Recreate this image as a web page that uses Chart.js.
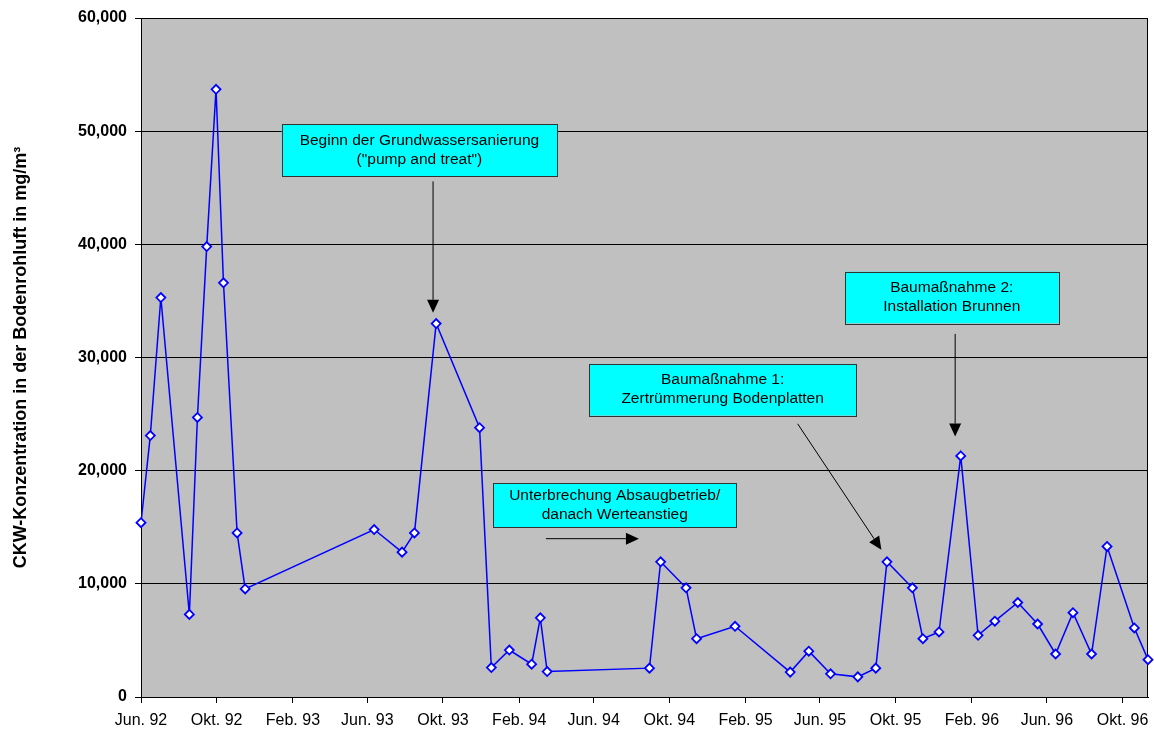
<!DOCTYPE html>
<html>
<head>
<meta charset="utf-8">
<title>CKW-Konzentration in der Bodenrohluft</title>
<script src="https://cdn.jsdelivr.net/npm/chart.js@4/dist/chart.umd.min.js"></script>
<style>
  html, body { margin: 0; padding: 0; background: #ffffff; }
  #wrap { width: 1154px; height: 729px; }
</style>
</head>
<body>
<div id="wrap"><canvas id="chart" width="1154" height="729"></canvas></div>
<script>
// Sampling dates of the soil-air measurements
const sampleDates = [
  '1992-06-01', '1992-06-16', '1992-07-03', '1992-08-18', '1992-08-31',
  '1992-09-15', '1992-09-30', '1992-10-12', '1992-11-03', '1992-11-16',
  '1993-06-12', '1993-07-27', '1993-08-16', '1993-09-20', '1993-11-29',
  '1993-12-18', '1994-01-16', '1994-02-21', '1994-03-07', '1994-03-18',
  '1994-08-30', '1994-09-17', '1994-10-28', '1994-11-14', '1995-01-15',
  '1995-04-14', '1995-05-14', '1995-06-18', '1995-08-01', '1995-08-30',
  '1995-09-17', '1995-10-28', '1995-11-14', '1995-12-10', '1996-01-14',
  '1996-02-11', '1996-03-09', '1996-04-15', '1996-05-17', '1996-06-15',
  '1996-07-13', '1996-08-12', '1996-09-06', '1996-10-20', '1996-11-11'
];

// CKW concentration in mg/m³
const ckwValues = [
  15400, 23100, 35300, 7300, 24700,
  39800, 53700, 36600, 14500, 9550,
  14800, 12800, 14500, 33000, 23800,
  2600, 4150, 2900, 7000, 2250,
  2550, 11950, 9650, 5150, 6250,
  2200, 4050, 2050, 1780, 2550,
  11950, 9650, 5150, 5750, 21300,
  5450, 6700, 8350, 6450, 3800,
  7450, 3800, 13300, 6100, 3300
];

// Date-axis ticks (every four months)
const tickDates = [
  '1992-06-01', '1992-10-01', '1993-02-01', '1993-06-01', '1993-10-01',
  '1994-02-01', '1994-06-01', '1994-10-01', '1995-02-01', '1995-06-01',
  '1995-10-01', '1996-02-01', '1996-06-01', '1996-10-01'
];
const tickLabels = [
  'Jun. 92', 'Okt. 92', 'Feb. 93', 'Jun. 93', 'Okt. 93',
  'Feb. 94', 'Jun. 94', 'Okt. 94', 'Feb. 95', 'Jun. 95',
  'Okt. 95', 'Feb. 96', 'Jun. 96', 'Okt. 96'
];

const yTitle = 'CKW-Konzentration in der Bodenrohluft in mg/m³';

// Callouts: box corners and arrow ends given as [date, value]
const notes = [
  { lines: ['Beginn der Grundwassersanierung', '("pump and treat")'],
    box: [['1993-01-14', 50620], ['1994-04-03', 46030]],
    arrow: [['1993-09-15', 45560], ['1993-09-15', 33950]] },
  { lines: ['Unterbrechung Absaugbetrieb/', 'danach Werteanstieg'],
    box: [['1993-12-21', 18905], ['1995-01-17', 15020]],
    arrow: [['1994-03-16', 13990], ['1994-08-13', 13990]] },
  { lines: ['Baumaßnahme 1:', 'Zertrümmerung Bodenplatten'],
    box: [['1994-05-25', 29435], ['1995-07-29', 24872]],
    arrow: [['1995-04-26', 24140], ['1995-09-08', 13018]] },
  { lines: ['Baumaßnahme 2:', 'Installation Brunnen'],
    box: [['1995-07-11', 37581], ['1996-06-20', 33027]],
    arrow: [['1996-01-05', 32081], ['1996-01-05', 23018]] }
];

const FONT = '"Liberation Sans", Arial, Helvetica, sans-serif';
const origin = Date.parse(sampleDates[0]);
const dayOf = s => (Date.parse(s) - origin) / 86400000;

const points = sampleDates.map((d, i) => ({ x: dayOf(d), y: ckwValues[i] }));
const tickDays = tickDates.map(dayOf);

// Grey plot area with a thin frame
const plotBackground = {
  id: 'plotBackground',
  beforeDraw(chart) {
    const { ctx, chartArea: a } = chart;
    ctx.save();
    ctx.fillStyle = '#c0c0c0';
    ctx.fillRect(a.left, a.top, a.right - a.left, a.bottom - a.top);
    ctx.restore();
  },
  beforeDatasetsDraw(chart) {
    const { ctx, chartArea: a } = chart;
    ctx.save();
    ctx.strokeStyle = '#000';
    ctx.lineWidth = 1;
    ctx.strokeRect(a.left + 0.5, a.top + 0.5, a.right - a.left - 1, a.bottom - a.top);
    ctx.restore();
  }
};

// Cyan text boxes with black arrows
const callouts = {
  id: 'callouts',
  afterDatasetsDraw(chart) {
    const { ctx, scales: { x, y } } = chart;
    const px = p => [x.getPixelForValue(dayOf(p[0])), y.getPixelForValue(p[1])];
    ctx.save();
    notes.forEach(n => {
      // arrow
      const [x1, y1] = px(n.arrow[0]);
      const [x2, y2] = px(n.arrow[1]);
      const ang = Math.atan2(y2 - y1, x2 - x1);
      const headLen = 13, headHalf = 6;
      const bx = x2 - headLen * Math.cos(ang), by = y2 - headLen * Math.sin(ang);
      ctx.strokeStyle = '#000';
      ctx.lineWidth = 1;
      ctx.beginPath();
      ctx.moveTo(x1, y1);
      ctx.lineTo(bx, by);
      ctx.stroke();
      ctx.fillStyle = '#000';
      ctx.beginPath();
      ctx.moveTo(x2, y2);
      ctx.lineTo(bx + headHalf * Math.sin(ang), by - headHalf * Math.cos(ang));
      ctx.lineTo(bx - headHalf * Math.sin(ang), by + headHalf * Math.cos(ang));
      ctx.closePath();
      ctx.fill();

      // box
      const [l, t] = px(n.box[0]);
      const [r, b] = px(n.box[1]);
      ctx.fillStyle = '#00ffff';
      ctx.fillRect(l, t, r - l, b - t);
      ctx.strokeStyle = '#333';
      ctx.strokeRect(Math.round(l) + 0.5, Math.round(t) + 0.5, Math.round(r - l), Math.round(b - t));

      // text
      ctx.fillStyle = '#000';
      ctx.font = '15.5px ' + FONT;
      ctx.textAlign = 'center';
      ctx.textBaseline = 'middle';
      const cx = (l + r) / 2;
      const lh = 19;
      const cy = (t + b) / 2 - lh * (n.lines.length - 1) / 2;
      n.lines.forEach((s, i) => ctx.fillText(s, cx, cy + i * lh));
    });
    ctx.restore();
  }
};

new Chart(document.getElementById('chart'), {
  type: 'line',
  data: {
    datasets: [{
      data: points,
      borderColor: '#0000ff',
      borderWidth: 1.5,
      pointStyle: 'rectRot',
      pointRadius: 4.5,
      pointBorderWidth: 1.8,
      pointBackgroundColor: '#ffffff',
      pointBorderColor: '#0000ff',
      tension: 0,
      clip: 6
    }]
  },
  options: {
    responsive: false,
    devicePixelRatio: 1,
    animation: false,
    layout: { autoPadding: false, padding: { top: 18, right: 6, bottom: 0, left: 0 } },
    plugins: {
      legend: { display: false },
      tooltip: { enabled: false }
    },
    scales: {
      x: {
        type: 'linear',
        min: 0,
        max: points[points.length - 1].x,
        afterBuildTicks(scale) {
          scale.ticks = tickDays.map(v => ({ value: v }));
        },
        afterFit(scale) {
          scale.height = 32;
          scale.paddingLeft = 0;
          scale.paddingRight = 0;
        },
        ticks: {
          callback: (v, i) => tickLabels[i],
          font: { family: FONT, size: 16 },
          color: '#000',
          padding: 8,
          maxRotation: 0,
          autoSkip: false
        },
        grid: {
          drawOnChartArea: false,
          drawTicks: true,
          tickLength: 6,
          color: '#000',
          lineWidth: 1
        },
        border: { display: true, color: '#000', width: 1 }
      },
      y: {
        min: 0,
        max: 60000,
        afterFit(scale) {
          scale.width = 141;
          scale.paddingTop = 0;
          scale.paddingBottom = 0;
        },
        ticks: {
          stepSize: 10000,
          callback: v => v.toLocaleString('en-US'),
          font: { family: FONT, size: 16, weight: 'bold' },
          color: '#000',
          padding: 8
        },
        grid: {
          color: '#000',
          lineWidth: 1,
          drawTicks: true,
          tickLength: 6
        },
        border: { display: true, color: '#000', width: 1 },
        title: {
          display: true,
          text: yTitle,
          font: { family: FONT, size: 18, weight: 'bold' },
          color: '#000',
          padding: { top: 10, bottom: 0 }
        }
      }
    }
  },
  plugins: [plotBackground, callouts]
});
</script>
</body>
</html>
